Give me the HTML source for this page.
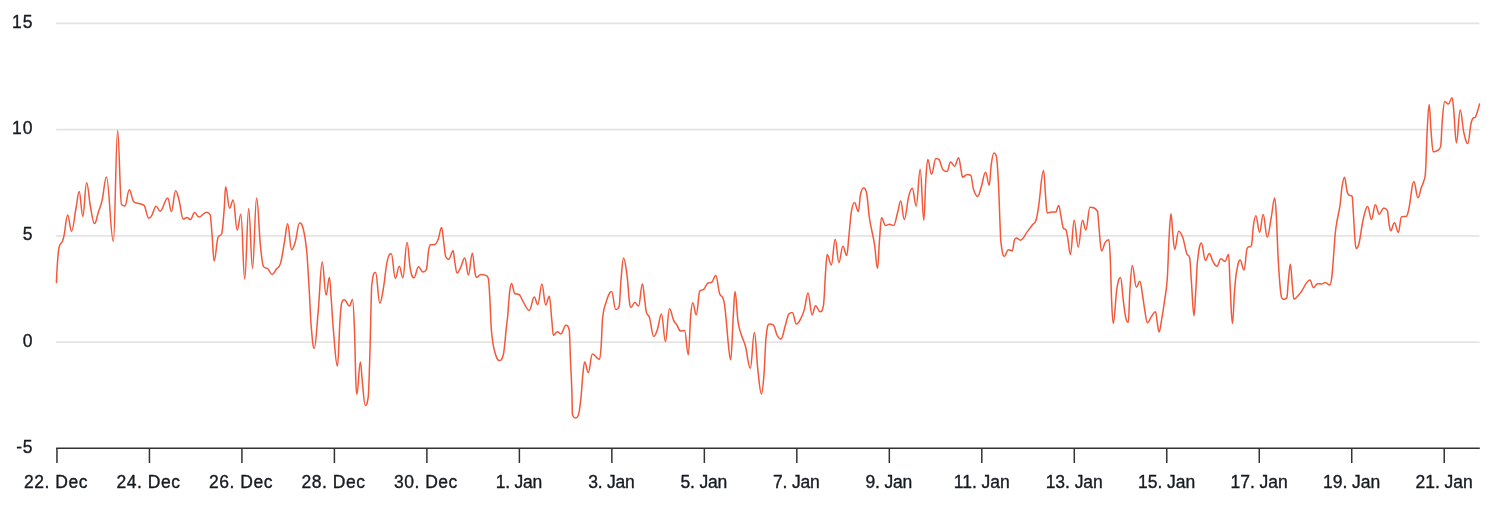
<!DOCTYPE html>
<html lang="en"><head><meta charset="utf-8"><title>Chart</title>
<style>html,body{margin:0;padding:0;background:#fff}body{width:1490px;height:508px;overflow:hidden}svg{display:block;will-change:transform}text{font-family:"Liberation Sans","DejaVu Sans",sans-serif;font-size:17.5px;fill:#161b22;stroke:#161b22;stroke-width:.35px;stroke-linejoin:round}</style></head><body>
<svg width="1490" height="508" viewBox="0 0 1490 508">
<rect width="1490" height="508" fill="#fff"/>
<g stroke="#e4e4e4" stroke-width="1.7" fill="none">
<path d="M56.1 23.35H1479.5"/>
<path d="M56.1 129.6H1479.5"/>
<path d="M56.1 235.85H1479.5"/>
<path d="M56.1 342.05H1479.5"/>
</g>
<g stroke="#333" stroke-width="1.5" fill="none">
<path d="M56.2 448.25H1479.8"/>
<path d="M56.95 448V463"/>
<path d="M149.44 448V463"/>
<path d="M241.92 448V463"/>
<path d="M334.40 448V463"/>
<path d="M426.89 448V463"/>
<path d="M519.38 448V463"/>
<path d="M611.86 448V463"/>
<path d="M704.35 448V463"/>
<path d="M796.83 448V463"/>
<path d="M889.32 448V463"/>
<path d="M981.80 448V463"/>
<path d="M1074.29 448V463"/>
<path d="M1166.77 448V463"/>
<path d="M1259.26 448V463"/>
<path d="M1351.74 448V463"/>
<path d="M1444.23 448V463"/>
</g>
<g text-anchor="end">
<text x="33.7" y="27.85" letter-spacing="1.1">15</text>
<text x="33.7" y="134.10" letter-spacing="1.1">10</text>
<text x="32.6" y="240.35" letter-spacing="0">5</text>
<text x="32.6" y="346.55" letter-spacing="0">0</text>
<text x="33.3" y="452.75" letter-spacing="0.7">-5</text>
</g>
<g text-anchor="middle">
<text x="56.0" y="487.9" letter-spacing="0.5">22. Dec</text>
<text x="148.5" y="487.9" letter-spacing="0.5">24. Dec</text>
<text x="241.0" y="487.9" letter-spacing="0.5">26. Dec</text>
<text x="333.5" y="487.9" letter-spacing="0.5">28. Dec</text>
<text x="425.9" y="487.9" letter-spacing="0.5">30. Dec</text>
<text x="518.9" y="487.9" letter-spacing="-0.2">1. Jan</text>
<text x="611.4" y="487.9" letter-spacing="-0.2">3. Jan</text>
<text x="703.8" y="487.9" letter-spacing="-0.2">5. Jan</text>
<text x="796.3" y="487.9" letter-spacing="-0.2">7. Jan</text>
<text x="888.8" y="487.9" letter-spacing="-0.2">9. Jan</text>
<text x="981.7" y="487.9" letter-spacing="-0.05">11. Jan</text>
<text x="1074.2" y="487.9" letter-spacing="-0.05">13. Jan</text>
<text x="1166.6" y="487.9" letter-spacing="-0.05">15. Jan</text>
<text x="1259.1" y="487.9" letter-spacing="-0.05">17. Jan</text>
<text x="1351.6" y="487.9" letter-spacing="-0.05">19. Jan</text>
<text x="1444.1" y="487.9" letter-spacing="-0.05">21. Jan</text>
</g>
<path d="M56.40 282.50C56.40 282.50 57.06 267.74 57.50 262.00C58.14 253.66 58.46 249.96 59.10 247.30C60.46 241.64 61.14 244.49 62.50 241.20C63.14 239.65 63.46 238.42 64.10 235.20C65.54 227.94 66.26 215.00 67.70 215.00C69.22 215.00 69.98 231.20 71.50 231.20C73.38 231.20 74.32 216.72 76.20 207.00C77.40 200.80 78.00 191.40 79.20 191.40C80.64 191.40 81.36 216.40 82.80 216.40C84.32 216.40 85.08 182.80 86.60 182.80C88.16 182.80 88.94 198.94 90.50 207.00C92.10 215.26 92.90 223.60 94.50 223.60C96.02 223.60 96.78 217.20 98.30 212.50C99.86 207.68 100.64 206.64 102.20 199.80C103.88 192.44 104.72 177.00 106.40 177.00C109.20 177.00 110.60 241.60 113.40 241.60C115.08 241.60 115.92 130.50 117.60 130.50C119.16 130.50 119.94 203.00 121.50 204.50C122.86 206.00 123.54 206.00 124.90 206.00C126.66 206.00 127.54 189.80 129.30 189.80C131.02 189.80 131.88 199.50 133.60 201.50C135.60 203.50 136.60 202.75 138.60 203.50C140.84 204.35 141.96 203.50 144.20 205.50C146.00 207.50 146.90 218.20 148.70 218.20C149.90 218.20 150.50 217.53 151.70 215.60C153.46 212.77 154.34 206.30 156.10 206.30C157.70 206.30 158.50 211.20 160.10 211.20C163.18 211.20 164.72 197.90 167.80 197.90C169.24 197.90 169.96 211.60 171.40 211.60C173.08 211.60 173.92 190.80 175.60 190.80C176.92 190.80 177.58 194.63 178.90 199.50C180.66 205.99 181.54 219.20 183.30 219.20C184.74 219.20 185.46 217.60 186.90 217.60C188.34 217.60 189.06 219.60 190.50 219.60C192.14 219.60 192.96 212.60 194.60 212.60C196.36 212.60 197.24 217.00 199.00 217.00C202.04 217.00 203.56 212.20 206.60 212.20C208.00 212.20 208.70 212.20 210.10 214.60C210.90 217.00 211.30 225.92 212.10 235.20C212.90 244.48 213.30 261.00 214.10 261.00C215.70 261.00 216.50 240.60 218.10 237.20C219.54 233.80 220.26 237.20 221.70 233.80C222.70 230.40 223.20 221.05 224.20 209.00C224.76 202.25 225.04 186.80 225.60 186.80C227.20 186.80 228.00 208.20 229.60 208.20C231.04 208.20 231.76 199.90 233.20 199.90C234.80 199.90 235.60 230.20 237.20 230.20C238.68 230.20 239.42 214.20 240.90 214.20C242.42 214.20 243.18 279.10 244.70 279.10C246.30 279.10 247.10 208.60 248.70 208.60C250.22 208.60 250.98 268.40 252.50 268.40C254.14 268.40 254.96 198.10 256.60 198.10C258.12 198.10 258.88 230.03 260.40 245.30C261.60 257.35 262.20 263.80 263.40 266.40C265.24 269.00 266.16 267.29 268.00 269.00C269.64 270.53 270.46 274.50 272.10 274.50C273.86 274.50 274.74 271.33 276.50 269.00C278.10 266.89 278.90 268.89 280.50 263.40C282.14 257.77 282.96 250.37 284.60 241.20C285.80 234.49 286.40 223.70 287.60 223.70C289.20 223.70 290.00 249.70 291.60 249.70C293.04 249.70 293.76 246.99 295.20 242.20C296.96 236.35 297.84 223.10 299.60 223.10C301.08 223.10 301.82 223.32 303.30 229.20C304.66 234.60 305.34 237.29 306.70 251.30C307.70 261.61 308.20 273.36 309.20 290.00C310.00 303.32 310.40 316.86 311.20 326.20C312.40 340.22 313.00 348.40 314.20 348.40C315.84 348.40 316.66 327.81 318.30 310.10C319.86 293.25 320.64 262.00 322.20 262.00C323.76 262.00 324.54 295.10 326.10 295.10C327.42 295.10 328.08 277.50 329.40 277.50C330.16 277.50 330.54 289.97 331.30 300.00C332.14 311.09 332.56 321.20 333.40 330.30C335.00 347.64 335.80 366.10 337.40 366.10C338.44 366.10 338.96 336.32 340.00 320.20C340.56 311.52 340.84 308.50 341.40 304.10C342.60 299.70 343.20 299.70 344.40 299.70C346.44 299.70 347.46 306.10 349.50 306.10C350.70 306.10 351.30 299.50 352.50 299.50C353.30 299.50 353.70 310.71 354.50 330.30C355.02 343.03 355.28 365.81 355.80 380.30C356.20 391.45 356.40 394.40 356.80 394.40C358.24 394.40 358.96 362.10 360.40 362.10C361.12 362.10 361.48 373.80 362.20 380.30C363.40 391.12 364.00 405.40 365.20 405.40C366.44 405.40 367.06 405.40 368.30 396.40C368.98 387.40 369.32 372.18 370.00 350.00C370.68 327.82 371.02 298.60 371.70 285.50C373.26 272.40 374.04 272.40 375.60 272.40C377.28 272.40 378.12 303.20 379.80 303.20C381.16 303.20 381.84 297.20 383.20 289.50C384.80 280.44 385.60 268.37 387.20 261.30C388.84 254.05 389.66 253.70 391.30 253.70C392.90 253.70 393.70 278.40 395.30 278.40C396.90 278.40 397.70 266.30 399.30 266.30C400.74 266.30 401.46 277.80 402.90 277.80C404.54 277.80 405.36 242.20 407.00 242.20C408.36 242.20 409.04 262.48 410.40 269.40C411.84 276.72 412.56 277.80 414.00 277.80C415.80 277.80 416.70 266.70 418.50 266.70C420.26 266.70 421.14 272.00 422.90 272.00C424.34 272.00 425.06 272.00 426.50 269.40C427.30 266.80 427.70 256.12 428.50 251.20C429.30 246.28 429.70 245.00 430.50 244.80C432.14 244.60 432.96 244.80 434.60 244.60C436.04 244.40 436.76 242.72 438.20 239.20C439.56 235.88 440.24 227.50 441.60 227.50C442.40 227.50 442.80 235.44 443.60 241.20C444.40 246.96 444.80 253.30 445.60 256.30C446.84 259.30 447.46 259.30 448.70 259.30C450.46 259.30 451.34 250.80 453.10 250.80C453.74 250.80 454.06 257.75 454.70 261.30C455.66 266.63 456.14 273.00 457.10 273.00C458.54 273.00 459.26 270.12 460.70 267.30C462.34 264.08 463.16 257.90 464.80 257.90C466.24 257.90 466.96 275.00 468.40 275.00C470.00 275.00 470.80 253.30 472.40 253.30C473.36 253.30 473.84 265.62 474.80 271.40C475.44 275.26 475.76 277.40 476.40 277.40C478.20 277.40 479.10 274.40 480.90 274.40C483.30 274.40 484.50 274.40 486.90 275.80C487.54 277.20 487.86 275.80 488.50 279.40C489.06 283.00 489.34 289.77 489.90 299.60C490.50 310.13 490.80 323.53 491.40 330.30C492.60 343.85 493.20 345.81 494.40 350.40C496.36 357.89 497.34 360.50 499.30 360.50C500.98 360.50 501.82 360.50 503.50 354.00C504.70 347.50 505.30 337.03 506.50 326.20C506.94 322.23 507.16 321.77 507.60 317.00C508.44 307.89 508.86 298.72 509.70 291.50C510.42 285.32 510.78 283.50 511.50 283.50C512.78 283.50 513.42 292.50 514.70 293.50C516.46 294.50 517.34 293.50 519.10 294.50C520.70 295.50 521.50 299.13 523.10 301.60C525.62 305.49 526.88 310.40 529.40 310.40C531.32 310.40 532.28 297.00 534.20 297.00C535.64 297.00 536.36 304.60 537.80 304.60C539.44 304.60 540.26 283.90 541.90 283.90C543.42 283.90 544.18 305.00 545.70 305.00C547.14 305.00 547.86 296.20 549.30 296.20C550.30 296.20 550.80 310.66 551.80 320.20C552.44 326.30 552.76 335.30 553.40 335.30C555.00 335.30 555.80 331.70 557.40 331.70C558.80 331.70 559.50 333.90 560.90 333.90C562.90 333.90 563.90 325.20 565.90 325.20C567.26 325.20 567.94 325.20 569.30 330.30C569.78 335.40 570.02 349.11 570.50 360.50C571.06 373.79 571.34 376.08 571.90 392.00C572.10 397.68 572.20 411.10 572.40 414.50C573.68 417.90 574.32 417.90 575.60 417.90C576.80 417.90 577.40 417.90 578.60 414.50C579.60 411.10 580.10 405.74 581.10 396.40C581.74 390.42 582.06 382.30 582.70 376.20C583.50 368.58 583.90 362.10 584.70 362.10C586.14 362.10 586.86 372.80 588.30 372.80C589.90 372.80 590.70 354.10 592.30 354.10C595.18 354.10 596.62 359.50 599.50 359.50C600.18 359.50 600.52 354.09 601.20 345.00C601.72 338.05 601.98 324.69 602.50 319.40C603.54 308.81 604.06 308.49 605.10 305.30C607.70 297.33 609.00 291.50 611.60 291.50C613.24 291.50 614.06 309.50 615.70 309.50C617.10 309.50 617.80 309.50 619.20 306.40C619.92 303.30 620.28 288.10 621.00 280.00C622.00 268.74 622.50 258.00 623.50 258.00C624.90 258.00 625.60 264.85 627.00 275.20C627.96 282.29 628.44 293.67 629.40 301.60C630.00 306.55 630.30 307.40 630.90 307.40C632.46 307.40 633.24 302.60 634.80 302.60C636.32 302.60 637.08 306.00 638.60 306.00C640.12 306.00 640.88 283.80 642.40 283.80C643.40 283.80 643.90 294.45 644.90 301.60C645.50 305.89 645.80 310.29 646.40 312.40C647.60 316.61 648.20 313.49 649.40 317.40C651.16 323.13 652.04 336.50 653.80 336.50C655.24 336.50 655.96 333.71 657.40 329.50C659.04 324.71 659.86 314.00 661.50 314.00C663.06 314.00 663.84 341.60 665.40 341.60C667.04 341.60 667.86 308.80 669.50 308.80C671.14 308.80 671.96 316.77 673.60 320.40C674.80 323.05 675.40 322.67 676.60 324.50C678.20 326.95 679.00 331.10 680.60 331.10C682.20 331.10 683.00 330.50 684.60 330.50C686.08 330.50 686.82 354.70 688.30 354.70C689.26 354.70 689.74 326.75 690.70 315.40C691.50 305.95 691.90 302.70 692.70 302.70C694.14 302.70 694.86 314.80 696.30 314.80C697.66 314.80 698.34 293.20 699.70 291.20C701.34 289.20 702.16 290.82 703.80 289.20C705.40 287.62 706.20 284.20 707.80 283.20C709.40 282.20 710.20 283.20 711.80 282.20C713.40 281.20 714.20 275.50 715.80 275.50C717.44 275.50 718.26 291.30 719.90 294.30C720.94 297.30 721.46 294.60 722.50 297.30C723.46 299.80 723.94 299.45 724.90 307.30C726.50 320.37 727.30 335.12 728.90 349.60C729.62 356.12 729.98 359.80 730.70 359.80C731.74 359.80 732.26 331.89 733.30 315.40C733.98 304.61 734.32 291.60 735.00 291.60C736.20 291.60 736.80 312.96 738.00 321.40C739.20 329.84 739.80 329.78 741.00 333.80C742.80 339.82 743.70 339.82 745.50 346.50C747.42 353.62 748.38 368.30 750.30 368.30C751.94 368.30 752.76 332.40 754.40 332.40C755.80 332.40 756.50 358.15 757.90 370.30C759.34 382.79 760.06 394.00 761.50 394.00C762.50 394.00 763.00 386.69 764.00 374.30C764.84 363.89 765.26 345.11 766.10 337.00C767.34 325.03 767.96 324.10 769.20 324.10C770.80 324.10 771.60 324.10 773.20 324.90C774.80 325.70 775.60 332.61 777.20 335.50C778.72 338.25 779.48 339.00 781.00 339.00C782.72 339.00 783.58 330.94 785.30 325.50C786.74 320.94 787.46 315.60 788.90 314.00C790.26 312.40 790.94 312.40 792.30 312.40C793.94 312.40 794.76 324.10 796.40 324.10C798.00 324.10 798.80 322.34 800.40 319.40C802.00 316.46 802.80 314.98 804.40 309.40C805.84 304.38 806.56 292.90 808.00 292.90C809.64 292.90 810.46 314.80 812.10 314.80C813.46 314.80 814.14 305.70 815.50 305.70C817.34 305.70 818.26 311.80 820.10 311.80C821.46 311.80 822.14 311.80 823.50 305.30C824.38 298.80 824.82 282.11 825.70 270.00C826.30 261.75 826.60 254.40 827.20 254.40C828.84 254.40 829.66 265.00 831.30 265.00C832.86 265.00 833.64 239.30 835.20 239.30C836.68 239.30 837.42 262.40 838.90 262.40C840.50 262.40 841.30 246.30 842.90 246.30C844.42 246.30 845.18 255.60 846.70 255.60C847.58 255.60 848.02 244.52 848.90 236.20C849.86 227.12 850.34 217.96 851.30 212.10C852.54 204.52 853.16 202.60 854.40 202.60C856.00 202.60 856.80 211.50 858.40 211.50C859.20 211.50 859.60 198.78 860.40 195.00C861.60 189.34 862.20 187.90 863.40 187.90C864.60 187.90 865.20 187.90 866.40 192.30C867.64 196.70 868.26 210.54 869.50 218.50C871.50 231.34 872.50 231.80 874.50 244.30C875.70 251.80 876.30 268.50 877.50 268.50C878.30 268.50 878.70 250.44 879.50 240.30C880.30 230.16 880.70 217.80 881.50 217.80C883.14 217.80 883.96 225.60 885.60 225.60C887.20 225.60 888.00 224.20 889.60 224.20C891.20 224.20 892.00 225.60 893.60 225.60C895.20 225.60 896.00 218.04 897.60 212.50C898.84 208.20 899.46 201.00 900.70 201.00C902.14 201.00 902.86 219.50 904.30 219.50C906.06 219.50 906.94 203.26 908.70 196.40C910.14 190.78 910.86 188.30 912.30 188.30C913.86 188.30 914.64 206.00 916.20 206.00C917.80 206.00 918.60 169.20 920.20 169.20C921.64 169.20 922.36 220.30 923.80 220.30C924.60 220.30 925.00 192.46 925.80 180.30C926.60 168.14 927.00 159.50 927.80 159.50C929.28 159.50 930.02 174.20 931.50 174.20C933.26 174.20 934.14 158.50 935.90 158.50C937.10 158.50 937.70 158.50 938.90 159.50C940.50 160.50 941.30 168.00 942.90 169.80C944.54 171.60 945.36 171.60 947.00 171.60C948.44 171.60 949.16 162.10 950.60 162.10C952.20 162.10 953.00 166.20 954.60 166.20C956.20 166.20 957.00 157.70 958.60 157.70C959.60 157.70 960.10 165.20 961.10 170.20C961.66 173.00 961.94 177.20 962.50 177.20C964.34 177.20 965.26 174.60 967.10 174.60C968.54 174.60 969.26 174.60 970.70 175.20C971.82 175.80 972.38 185.86 973.50 189.30C975.14 194.34 975.96 196.40 977.60 196.40C979.04 196.40 979.76 191.66 981.20 187.30C982.96 181.98 983.84 172.20 985.60 172.20C987.04 172.20 987.76 185.30 989.20 185.30C990.04 185.30 990.46 169.95 991.30 164.20C992.34 157.07 992.86 153.10 993.90 153.10C994.86 153.10 995.34 153.10 996.30 156.10C997.10 159.10 997.50 165.99 998.30 180.30C998.94 191.75 999.26 205.31 999.90 220.50C1000.30 229.99 1000.50 238.74 1000.90 242.00C1002.26 253.10 1002.94 256.40 1004.30 256.40C1005.94 256.40 1006.76 249.70 1008.40 249.70C1010.00 249.70 1010.80 250.70 1012.40 250.70C1013.20 250.70 1013.60 242.70 1014.40 240.30C1015.20 237.90 1015.60 237.90 1016.40 237.90C1018.04 237.90 1018.86 240.20 1020.50 240.20C1023.30 240.20 1024.70 235.02 1027.50 231.40C1029.50 228.82 1030.50 227.31 1032.50 224.70C1033.90 222.87 1034.60 224.50 1036.00 220.30C1037.04 217.18 1037.56 213.20 1038.60 206.40C1040.60 193.32 1041.60 170.60 1043.60 170.60C1044.40 170.60 1044.80 187.00 1045.60 196.40C1046.24 203.92 1046.56 212.90 1047.20 212.90C1049.00 212.90 1049.90 212.10 1051.70 212.10C1053.30 212.10 1054.10 212.10 1055.70 212.10C1056.90 212.10 1057.50 205.40 1058.70 205.40C1059.50 205.40 1059.90 210.46 1060.70 214.50C1061.66 219.34 1062.14 224.80 1063.10 227.60C1064.34 230.40 1064.96 227.60 1066.20 230.40C1066.84 233.20 1067.16 234.64 1067.80 238.30C1068.84 244.24 1069.36 254.40 1070.40 254.40C1071.92 254.40 1072.68 220.30 1074.20 220.30C1075.80 220.30 1076.60 247.30 1078.20 247.30C1079.92 247.30 1080.78 220.30 1082.50 220.30C1083.82 220.30 1084.48 230.00 1085.80 230.00C1087.48 230.00 1088.32 207.20 1090.00 207.20C1093.00 207.20 1094.50 207.20 1097.50 211.20C1098.18 215.20 1098.52 223.23 1099.20 230.00C1100.12 239.15 1100.58 251.00 1101.50 251.00C1102.98 251.00 1103.72 244.59 1105.20 242.30C1106.64 240.07 1107.36 239.70 1108.80 239.70C1109.36 239.70 1109.64 244.88 1110.20 257.00C1110.76 269.12 1111.04 287.91 1111.60 300.30C1112.24 314.47 1112.56 323.40 1113.20 323.40C1114.68 323.40 1115.42 297.79 1116.90 288.50C1118.34 279.47 1119.06 277.60 1120.50 277.60C1121.62 277.60 1122.18 291.84 1123.30 300.30C1124.34 308.16 1124.86 314.40 1125.90 318.40C1126.86 322.40 1127.34 322.40 1128.30 322.40C1128.94 322.40 1129.26 299.30 1129.90 290.20C1130.86 276.54 1131.34 265.50 1132.30 265.50C1133.94 265.50 1134.76 287.20 1136.40 287.20C1137.80 287.20 1138.50 281.30 1139.90 281.30C1140.90 281.30 1141.40 288.28 1142.40 294.20C1143.36 299.88 1143.84 304.81 1144.80 310.30C1145.84 316.25 1146.36 322.80 1147.40 322.80C1149.04 322.80 1149.86 318.65 1151.50 316.40C1153.10 314.21 1153.90 311.70 1155.50 311.70C1156.30 311.70 1156.70 319.91 1157.50 324.40C1158.14 327.99 1158.46 331.90 1159.10 331.90C1160.06 331.90 1160.54 325.92 1161.50 320.40C1162.74 313.28 1163.36 309.36 1164.60 300.30C1165.68 292.40 1166.22 293.26 1167.30 278.00C1168.06 267.26 1168.44 248.51 1169.20 235.30C1169.92 222.79 1170.28 213.70 1171.00 213.70C1171.64 213.70 1171.96 224.85 1172.60 231.20C1173.40 239.13 1173.80 249.40 1174.60 249.40C1176.24 249.40 1177.06 231.20 1178.70 231.20C1180.30 231.20 1181.10 232.86 1182.70 237.30C1184.30 241.74 1185.10 248.67 1186.70 253.40C1187.90 256.95 1188.50 253.40 1189.70 258.00C1190.42 262.60 1190.78 273.32 1191.50 283.00C1192.50 296.44 1193.00 315.80 1194.00 315.80C1194.72 315.80 1195.08 301.47 1195.80 290.20C1196.48 279.55 1196.82 266.74 1197.50 261.00C1199.06 247.82 1199.84 242.90 1201.40 242.90C1203.00 242.90 1203.80 260.40 1205.40 260.40C1206.96 260.40 1207.74 253.40 1209.30 253.40C1210.74 253.40 1211.46 258.99 1212.90 261.40C1214.54 264.15 1215.36 266.30 1217.00 266.30C1218.56 266.30 1219.34 258.80 1220.90 258.80C1222.54 258.80 1223.36 261.40 1225.00 261.40C1226.44 261.40 1227.16 254.40 1228.60 254.40C1229.16 254.40 1229.44 272.83 1230.00 283.00C1230.96 300.43 1231.44 323.40 1232.40 323.40C1233.28 323.40 1233.72 301.23 1234.60 290.20C1235.36 280.67 1235.74 276.17 1236.50 272.00C1237.94 264.09 1238.66 260.00 1240.10 260.00C1241.70 260.00 1242.50 270.10 1244.10 270.10C1245.30 270.10 1245.90 251.50 1247.10 248.40C1248.86 245.30 1249.74 248.40 1251.50 245.30C1252.30 242.20 1252.70 230.71 1253.50 225.20C1254.42 218.87 1254.88 215.70 1255.80 215.70C1257.32 215.70 1258.08 232.20 1259.60 232.20C1261.04 232.20 1261.76 214.50 1263.20 214.50C1264.80 214.50 1265.60 237.30 1267.20 237.30C1268.84 237.30 1269.66 225.69 1271.30 217.10C1272.66 209.97 1273.34 198.00 1274.70 198.00C1275.34 198.00 1275.66 203.99 1276.30 215.10C1277.02 227.59 1277.38 243.03 1278.10 257.00C1278.78 270.19 1279.12 274.96 1279.80 283.00C1280.48 291.04 1280.82 295.10 1281.50 297.20C1282.38 299.30 1282.82 299.30 1283.70 299.30C1284.94 299.30 1285.56 299.30 1286.80 298.00C1287.44 296.70 1287.76 286.09 1288.40 280.10C1289.20 272.61 1289.60 264.30 1290.40 264.30C1291.20 264.30 1291.60 278.22 1292.40 286.00C1293.04 292.22 1293.36 299.30 1294.00 299.30C1294.96 299.30 1295.44 298.51 1296.40 297.50C1298.44 295.35 1299.46 294.35 1301.50 291.40C1303.50 288.51 1304.50 285.61 1306.50 282.90C1307.86 281.05 1308.54 280.00 1309.90 280.00C1311.34 280.00 1312.06 287.70 1313.50 287.70C1315.14 287.70 1315.96 283.70 1317.60 283.70C1319.20 283.70 1320.00 284.00 1321.60 284.00C1323.04 284.00 1323.76 282.50 1325.20 282.50C1326.96 282.50 1327.84 285.10 1329.60 285.10C1330.44 285.10 1330.86 283.85 1331.70 277.80C1332.42 272.61 1332.78 265.96 1333.50 257.00C1334.22 248.04 1334.58 240.11 1335.30 233.00C1336.10 225.11 1336.50 224.21 1337.30 219.50C1338.38 213.13 1338.92 212.75 1340.00 205.30C1340.80 199.79 1341.20 192.08 1342.00 187.10C1343.00 180.88 1343.50 177.30 1344.50 177.30C1345.50 177.30 1346.00 187.22 1347.00 191.20C1347.80 194.38 1348.20 194.40 1349.00 195.20C1350.20 196.00 1350.80 195.20 1352.00 196.00C1352.60 196.80 1352.90 206.49 1353.50 215.30C1354.14 224.69 1354.46 233.91 1355.10 241.50C1355.58 247.19 1355.82 248.50 1356.30 248.50C1357.42 248.50 1357.98 247.61 1359.10 243.00C1360.46 237.41 1361.14 230.07 1362.50 223.00C1363.58 217.39 1364.12 214.77 1365.20 211.30C1366.16 208.21 1366.64 206.60 1367.60 206.60C1369.16 206.60 1369.94 219.50 1371.50 219.50C1373.02 219.50 1373.78 204.70 1375.30 204.70C1376.90 204.70 1377.70 214.20 1379.30 214.20C1381.06 214.20 1381.94 207.90 1383.70 207.90C1385.14 207.90 1385.86 207.90 1387.30 210.30C1388.10 212.70 1388.50 220.58 1389.30 225.40C1389.86 228.78 1390.14 230.80 1390.70 230.80C1392.18 230.80 1392.92 222.80 1394.40 222.80C1396.00 222.80 1396.80 232.40 1398.40 232.40C1399.60 232.40 1400.20 217.50 1401.40 216.90C1403.40 216.30 1404.40 216.90 1406.40 216.30C1407.64 215.70 1408.26 211.65 1409.50 205.30C1410.54 199.97 1411.06 192.73 1412.10 187.10C1412.82 183.21 1413.18 181.50 1413.90 181.50C1415.50 181.50 1416.30 197.80 1417.90 197.80C1419.34 197.80 1420.06 191.20 1421.50 187.10C1422.38 184.60 1422.82 184.82 1423.70 181.30C1424.46 178.26 1424.84 181.30 1425.60 170.70C1426.24 160.10 1426.56 142.07 1427.20 130.30C1428.00 115.59 1428.40 104.50 1429.20 104.50C1429.92 104.50 1430.28 121.79 1431.00 130.30C1431.88 140.71 1432.32 151.80 1433.20 151.80C1434.96 151.80 1435.84 151.67 1437.60 150.40C1438.84 149.51 1439.46 150.40 1440.70 146.40C1441.34 142.40 1441.66 127.38 1442.30 120.20C1443.26 109.42 1443.74 101.50 1444.70 101.50C1446.14 101.50 1446.86 104.10 1448.30 104.10C1449.82 104.10 1450.58 97.70 1452.10 97.70C1452.74 97.70 1453.06 103.40 1453.70 110.10C1454.78 121.40 1455.32 142.70 1456.40 142.70C1457.92 142.70 1458.68 110.10 1460.20 110.10C1461.64 110.10 1462.36 125.99 1463.80 132.30C1465.40 139.31 1466.20 143.40 1467.80 143.40C1469.04 143.40 1469.66 130.69 1470.90 124.20C1471.54 120.85 1471.86 119.83 1472.50 118.80C1473.70 116.87 1474.30 118.73 1475.50 116.80C1476.46 115.25 1476.94 113.15 1477.90 110.10C1478.54 108.07 1479.50 104.10 1479.50 104.10" fill="none" stroke="#f3583b" stroke-width="1.5" stroke-linejoin="round" stroke-linecap="round"/>
</svg></body></html>
